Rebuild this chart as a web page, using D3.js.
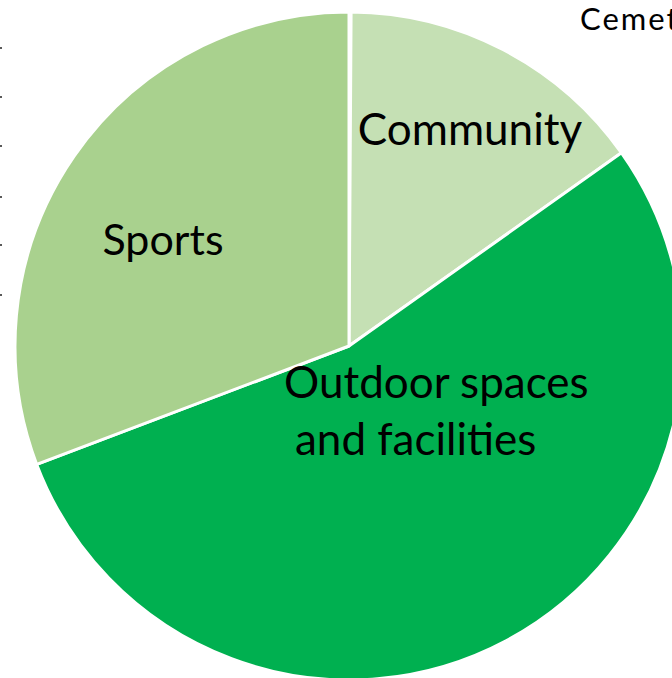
<!DOCTYPE html>
<html>
<head>
<meta charset="utf-8">
<script src="https://cdn.jsdelivr.net/npm/d3@7"></script>
<style>
  html, body { margin: 0; padding: 0; background: #fff; overflow: hidden; }
  #canvas { width: 672px; height: 678px; }
</style>
</head>
<body>
<div id="canvas"></div>
<script>
const canvWidth = 672, canvHeight = 678;

// pie data, clockwise from 12 o'clock
const categories = ["Cemetery", "Community", "Outdoor spaces and facilities", "Sports"];
const values = [0.1, 15.1, 54.1, 30.8];
const colors = ["#70ad47", "#c5e0b4", "#00b050", "#a9d18e"];

// label lines and where they sit (offset from pie centre, baseline of first line)
const labelLines = [["Cemetery"], ["Community"], ["Outdoor spaces", "and facilities"], ["Sports"]];
const labelAnchor = [[231, -316], [121, -201], [-65, 52], [-186, -91]];
const labelSize = [31, 44, 44, 43];

const svg = d3.select("#canvas").append("svg")
    .attr("width", canvWidth)
    .attr("height", canvHeight);

const cx = 349, cy = 346, radius = 334;

const g = svg.append("g")
    .attr("transform", "translate(" + cx + "," + cy + ")");

const pie = d3.pie().sort(null).value(function (d) { return d.value; });
const arc = d3.arc().innerRadius(0).outerRadius(radius);

const rows = categories.map(function (c, i) {
    return {name: c, value: values[i], color: colors[i], lines: labelLines[i], at: labelAnchor[i], size: labelSize[i]};
});

g.selectAll("path.slice")
    .data(pie(rows))
    .enter().append("path")
    .attr("class", "slice")
    .attr("d", arc)
    .style("fill", function (d) { return d.data.color; })
    .style("stroke", "#fff")
    .style("stroke-width", 3)
    .style("stroke-linejoin", "round");

// labels
rows.forEach(function (r) {
    const small = r.name === "Cemetery";
    const left = small || r.lines.length > 1;
    const t = g.append("text")
        .attr("x", r.at[0])
        .attr("y", r.at[1])
        .attr("text-anchor", left ? "start" : "middle")
        .style("font-family", "Lato, 'Open Sans', sans-serif")
        .style("font-size", r.size + "px")
        .style("letter-spacing", small ? "2px" : null)
        .style("fill", "#000");
    r.lines.forEach(function (line, j) {
        t.append("tspan")
            .attr("x", r.at[0] + (j === 1 ? 11 : 0))
            .attr("dy", j === 0 ? 0 : "1.3em")
            .text(line);
    });
});

// leftover marks along the left edge
const edgeMarks = [48, 97, 146, 197, 245, 295];
svg.selectAll("rect.edge")
    .data(edgeMarks)
    .enter().append("rect")
    .attr("class", "edge")
    .attr("x", 0)
    .attr("y", function (d) { return d - 1; })
    .attr("width", 2)
    .attr("height", 2)
    .style("fill", "#595959");
</script>
</body>
</html>
